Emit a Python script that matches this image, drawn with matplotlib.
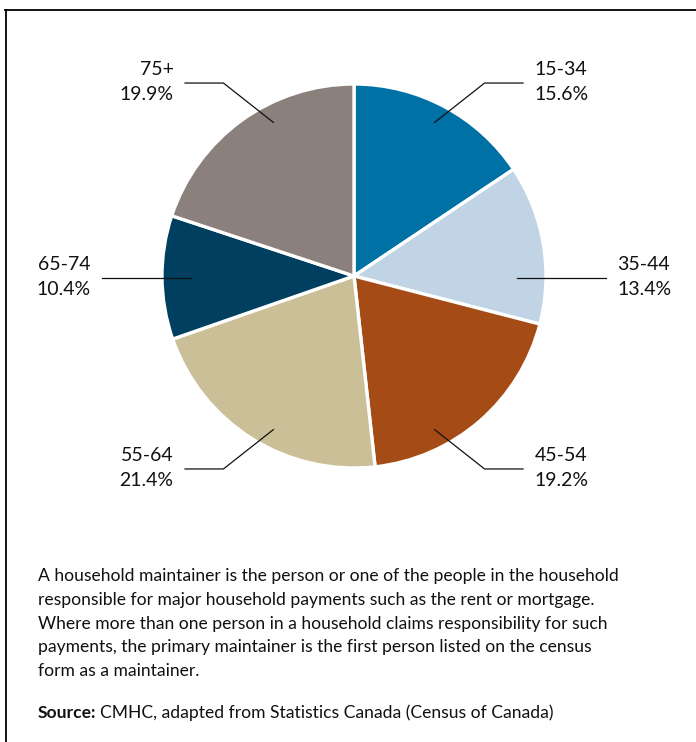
import numpy as np
import matplotlib.pyplot as plt
from matplotlib.lines import Line2D

plt.rcParams['font.family'] = ['Lato', 'DejaVu Sans']

age_groups = ['15-34', '35-44', '45-54', '55-64', '65-74', '75+']
shares = [15.6, 13.4, 19.2, 21.4, 10.4, 19.9]
colors = ['#0071a4', '#c0d4e6', '#a54c16', '#cbbf98', '#003f5f', '#8b807c']

note = ("A household maintainer is the person or one of the people in the household\n"
        "responsible for major household payments such as the rent or mortgage.\n"
        "Where more than one person in a household claims responsibility for such\n"
        "payments, the primary maintainer is the first person listed on the census\n"
        "form as a maintainer.")
source = "CMHC, adapted from Statistics Canada (Census of Canada)"

W, H = 696, 742
fig = plt.figure(figsize=(W / 100, H / 100), dpi=100)
ax = fig.add_axes([0, 0, 1, 1])

# pie geometry in pixels (y measured from the bottom)
cx, cy, R = 354, H - 276, 192

ax.pie(shares, colors=colors, startangle=90, counterclock=False,
       center=(cx, cy), radius=R,
       wedgeprops=dict(edgecolor='white', linewidth=2.4))

ax.set_xlim(0, W)
ax.set_ylim(0, H)
ax.set_aspect('auto')
ax.axis('off')

# leader layout: (side, vertical) for each label
layout = [(1, 1), (1, 0), (1, -1), (-1, -1), (-1, 0), (-1, 1)]

for name, val, (sx, sy) in zip(age_groups, shares, layout):
    if sy != 0:
        xs = [cx + sx * 0.42 * R, cx + sx * 0.68 * R, cx + sx * 0.88 * R]
        ys = [cy + sy * 0.80 * R, cy + sy * 1.005 * R, cy + sy * 1.005 * R]
        tx = cx + sx * 0.94 * R
    else:
        xs = [cx + sx * 0.85 * R, cx + sx * 1.31 * R]
        ys = [cy - 2, cy - 2]
        tx = cx + sx * 1.37 * R
    ax.add_line(Line2D(xs, ys, color='#111111', lw=0.9))
    ax.text(tx, ys[-1] + 1, f"{name}\n{val:.1f}%", fontsize=14,
            ha='left' if sx > 0 else 'right', va='center',
            linespacing=1.6, color='#111111')

# frame lines along the top and left edges
ax.add_line(Line2D([5, W], [H - 9.5, H - 9.5], color='black', lw=1.3))
ax.add_line(Line2D([5.5, 5.5], [0, H - 9.5], color='black', lw=1.3))

ax.text(38, H - 568, note, fontsize=12.6, ha='left', va='top',
        linespacing=1.6, color='#111111')

src_bold = ax.text(38, H - 713, "Source:", fontsize=12.6, fontweight='bold',
                   ha='left', va='center', color='#111111')
fig.canvas.draw()
bb = src_bold.get_window_extent()
x_after = ax.transData.inverted().transform((bb.x1, bb.y0))[0]
ax.text(x_after + 4, H - 713, source, fontsize=12.6, ha='left', va='center',
        color='#111111')

plt.savefig('out.png', dpi=100)
